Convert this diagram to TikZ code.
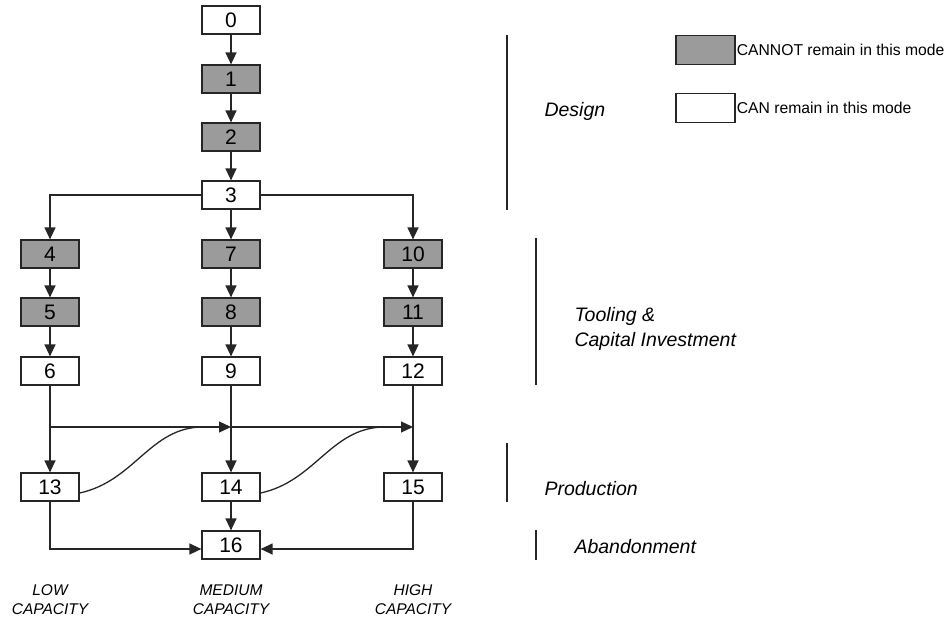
\documentclass[tikz,border=0pt]{standalone}
\usepackage{fontspec}
\setmainfont{Liberation Sans}
\usetikzlibrary{arrows.meta}
\definecolor{boxgray}{RGB}{155,155,155}
\begin{document}
\begin{tikzpicture}[x=1pt,y=-1pt,
  stage/.style={draw=black!85,line width=1.2pt,minimum width=58pt,minimum height=28pt,inner sep=0pt,font=\fontsize{21}{24}\selectfont},
  fixed/.style={stage,fill=boxgray},
  free/.style={stage,fill=white},
  conn/.style={draw=black!85,line width=1.3pt},
  arr/.style={conn,-{Triangle[length=12pt,width=11pt]}},
  bar/.style={draw=black!85,line width=2.4pt},
  phase/.style={font=\fontsize{19.5}{25}\selectfont\itshape,anchor=west,align=left},
  caplabel/.style={font=\fontsize{15.5}{19}\selectfont\itshape,align=center},
  legtext/.style={font=\fontsize{15.7}{18}\selectfont,anchor=west,inner sep=1pt}]
\useasboundingbox (0,0) rectangle (947,624);
% stages
\node[free]  (n0)  at (231,20)  {0};
\node[fixed] (n1)  at (231,79)  {1};
\node[fixed] (n2)  at (231,137) {2};
\node[free]  (n3)  at (231,195) {3};
\node[fixed] (n4)  at (50,254)  {4};
\node[fixed] (n5)  at (50,312)  {5};
\node[free]  (n6)  at (50,371)  {6};
\node[fixed] (n7)  at (231,254) {7};
\node[fixed] (n8)  at (231,312) {8};
\node[free]  (n9)  at (231,371) {9};
\node[fixed] (n10) at (413,254) {10};
\node[fixed] (n11) at (413,312) {11};
\node[free]  (n12) at (413,371) {12};
\node[free]  (n13) at (50,487)  {13};
\node[free]  (n14) at (231,487) {14};
\node[free]  (n15) at (413,487) {15};
\node[free]  (n16) at (231,545) {16};
% switching line
\coordinate (s1) at (50,427);
\coordinate (s2) at (231,427);
\coordinate (s3) at (413,427);
\coordinate (c1) at (203,427);
\coordinate (c2) at (385,427);
% connectors
\draw[arr] (n0) -- (n1);
\draw[arr] (n1) -- (n2);
\draw[arr] (n2) -- (n3);
\draw[arr] (n3.west) -| (n4.north);
\draw[arr] (n3.east) -| (n10.north);
\draw[arr] (n3) -- (n7);
\draw[arr] (n4) -- (n5);
\draw[arr] (n5) -- (n6);
\draw[arr] (n7) -- (n8);
\draw[arr] (n8) -- (n9);
\draw[arr] (n10) -- (n11);
\draw[arr] (n11) -- (n12);
\draw[arr] (n6) -- (n13);
\draw[arr] (n9) -- (n14);
\draw[arr] (n12) -- (n15);
\draw[arr] (s1) -- (s2);
\draw[arr] (s2) -- (s3);
\draw[conn] ([yshift=-6pt]n13.east) .. controls (135,481) and (150,427) .. (c1);
\draw[conn] ([yshift=-6pt]n14.east) .. controls (316,481) and (331,427) .. (c2);
\draw[arr] (n14) -- (n16);
\draw[arr] (n13.south) |- ([yshift=-4pt]n16.west);
\draw[arr] (n15.south) |- ([yshift=-4pt]n16.east);
% phase bars
\coordinate (d1) at (507,35);  \coordinate (d2) at (507,210);
\coordinate (t1) at (536,238); \coordinate (t2) at (536,385);
\coordinate (p1) at (507,443); \coordinate (p2) at (507,502);
\coordinate (a1) at (536,530); \coordinate (a2) at (536,560);
\draw[bar] (d1) -- (d2);
\draw[bar] (t1) -- (t2);
\draw[bar] (p1) -- (p2);
\draw[bar] (a1) -- (a2);
\node[phase] (ld) at (541,111) {Design};
\node[phase] (lt) at (571,329) {Tooling \&\\Capital Investment};
\node[phase] (lp) at (541,489) {Production};
\node[phase] (la) at (571,547) {Abandonment};
% legend
\node[fixed,minimum width=59pt,minimum height=29pt] (k1) at (705.5,50) {};
\node[free,minimum width=59pt,minimum height=29pt] (k2) at (705.5,108) {};
\node[legtext] (kt1) at (k1.east) {CANNOT remain in this mode};
\node[legtext] (kt2) at (k2.east) {CAN remain in this mode};
% capacity labels
\node[caplabel] (cl) at (50,600)  {LOW\\CAPACITY};
\node[caplabel] (cm) at (231,600) {MEDIUM\\CAPACITY};
\node[caplabel] (ch) at (413,600) {HIGH\\CAPACITY};
\end{tikzpicture}
\end{document}
